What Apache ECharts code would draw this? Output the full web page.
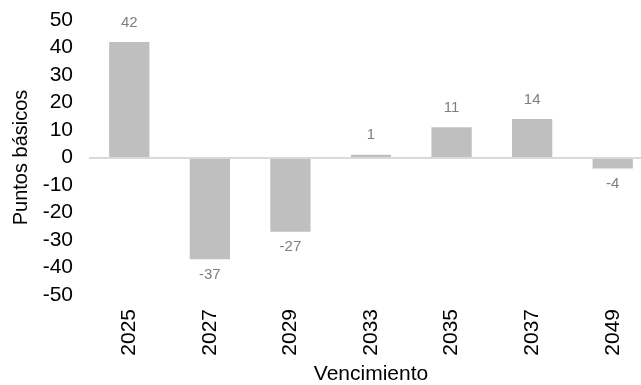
<!DOCTYPE html>
<html>
<head>
<meta charset="utf-8">
<script src="https://cdn.jsdelivr.net/npm/echarts@6/dist/echarts.min.js"></script>
<style>
    html, body { margin: 0; padding: 0; background: #fff; }
    #chart { width: 641px; height: 385px; }
</style>
</head>
<body>
<div id="chart"></div>
<script>
// datos
var years = ['2025', '2027', '2029', '2033', '2035', '2037', '2049'];
var values = [42, -37, -27, 1, 11, 14, -4];
var yMin = -50, yMax = 50, yStep = 10;

var theChart = echarts.init(document.getElementById('chart'));
var font = 'Liberation Sans, Arial, sans-serif';

var barData = values.map(function (v) {
    return {
        value: v,
        label: {
            position: v < 0 ? 'bottom' : 'top',
            distance: v < 0 ? 8 : 12
        }
    };
});

var option = {
    backgroundColor: '#fff',
    animation: false,
    grid: {
        left: 89,
        top: 20,
        width: 564,
        bottom: 90,
        outerBoundsMode: 'none'
    },
    xAxis: {
        type: 'category',
        data: years,
        name: 'Vencimiento',
        nameLocation: 'middle',
        nameGap: 68,
        nameTextStyle: { color: '#000', fontSize: 21, fontFamily: font },
        axisLine: { show: false, onZero: false },
        axisTick: { show: false },
        axisLabel: {
            rotate: 90,
            margin: 14,
            color: '#000',
            fontSize: 21,
            fontFamily: font
        }
    },
    yAxis: {
        type: 'value',
        min: yMin,
        max: yMax,
        interval: yStep,
        name: 'Puntos básicos',
        nameLocation: 'middle',
        nameGap: 58,
        nameTextStyle: { color: '#000', fontSize: 20, fontFamily: font },
        axisLine: { show: false },
        axisTick: { show: false },
        splitLine: { show: false },
        axisLabel: {
            margin: 16,
            color: '#000',
            fontSize: 21,
            fontFamily: font
        }
    },
    series: [{
        type: 'bar',
        data: barData,
        barCategoryGap: '50%',
        itemStyle: { color: '#bfbfbf' },
        label: {
            show: true,
            color: '#7f7f7f',
            fontSize: 15,
            fontFamily: font
        },
        markLine: {
            silent: true,
            symbol: 'none',
            label: { show: false },
            lineStyle: { color: '#d9d9d9', width: 2, type: 'solid' },
            data: [{ yAxis: 0 }]
        }
    }]
};
theChart.setOption(option);
</script>
</body>
</html>
